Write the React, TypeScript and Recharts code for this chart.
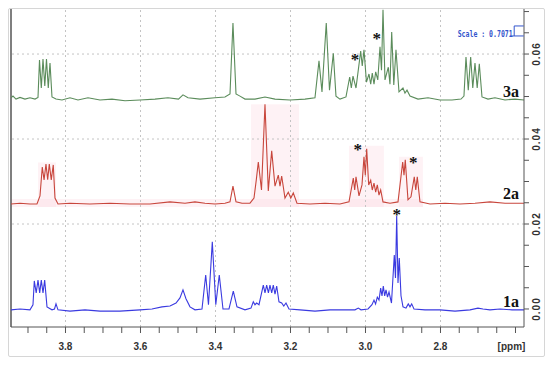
import React from 'react';
import { ComposedChart, Line, XAxis, YAxis, ReferenceLine, ReferenceArea, ReferenceDot } from 'recharts';

// ---- axis ticks / labels ----
const ppmTicks = [3.9, 3.85, 3.8, 3.75, 3.7, 3.65, 3.6, 3.55, 3.5, 3.45, 3.4, 3.35, 3.3, 3.25, 3.2, 3.15, 3.1, 3.05, 3.0, 2.95, 2.9, 2.85, 2.8, 2.75, 2.7, 2.65, 2.6];
const ppmLabels: Record<string, string> = { '3.8': '3.8', '3.6': '3.6', '3.4': '3.4', '3.2': '3.2', '3': '3.0', '2.8': '2.8', '2.6': '[ppm]' };
const ppmGrid = [3.8, 3.6, 3.4, 3.2, 3.0, 2.8];
const intensityTicks = [0, 0.005, 0.01, 0.015, 0.02, 0.025, 0.03, 0.035, 0.04, 0.045, 0.05, 0.055, 0.06, 0.065, 0.07];
const intensityLabels: Record<string, string> = { '0': '0.00', '0.02': '0.02', '0.04': '0.04', '0.06': '0.06' };
const intensityGrid = [0.02, 0.04, 0.06];
const ppmDomain = [2.5773, 3.9453];
const intensityDomain = [-0.00424, 0.0706];

// ---- spectra [ppm, intensity] ----
const spectrum3a: [number, number][] = [
  [3.9453, 0.0497], [3.94, 0.0501], [3.932, 0.0494], [3.9213, 0.0498], [3.908, 0.0494], [3.8947, 0.0497], [3.8813, 0.0494], [3.8733, 0.0498],
  [3.8693, 0.0586], [3.8645, 0.052], [3.86, 0.0588], [3.8552, 0.0525], [3.8507, 0.0588], [3.8459, 0.052], [3.8413, 0.0579], [3.836, 0.0499],
  [3.8253, 0.0494], [3.8093, 0.0492], [3.788, 0.0497], [3.7667, 0.0492], [3.74, 0.0497], [3.708, 0.0492], [3.676, 0.0494], [3.6413, 0.049],
  [3.6013, 0.0492], [3.5613, 0.0494], [3.5267, 0.0497], [3.4987, 0.0494], [3.4867, 0.0504], [3.4733, 0.0497], [3.4413, 0.0494], [3.4013, 0.0497],
  [3.3747, 0.0499], [3.3613, 0.0506], [3.3534, 0.0673], [3.3453, 0.0506], [3.3347, 0.0501], [3.3213, 0.0494], [3.2947, 0.0494], [3.268, 0.0499],
  [3.2413, 0.0494], [3.2013, 0.0492], [3.1613, 0.0494], [3.1347, 0.0497], [3.124, 0.0584], [3.116, 0.0511], [3.1046, 0.0673], [3.096, 0.0515],
  [3.0858, 0.0602], [3.0787, 0.0501], [3.068, 0.0494], [3.052, 0.0499], [3.0421, 0.0546], [3.0378, 0.052], [3.0333, 0.0548], [3.0253, 0.052],
  [3.0128, 0.0607], [3.0086, 0.0572], [3.004, 0.061], [2.9974, 0.0534], [2.9907, 0.0553], [2.9861, 0.0529], [2.9819, 0.0555], [2.9773, 0.0529],
  [2.9728, 0.0558], [2.9672, 0.0539], [2.9613, 0.0617], [2.9573, 0.0562], [2.9533, 0.0704], [2.948, 0.0539], [2.9392, 0.0569], [2.9347, 0.0529],
  [2.9301, 0.0652], [2.9245, 0.0527], [2.9187, 0.061], [2.9107, 0.0511], [2.9, 0.052], [2.8947, 0.0508], [2.8893, 0.0515], [2.8813, 0.0501],
  [2.86, 0.0494], [2.8333, 0.0497], [2.8013, 0.0492], [2.7693, 0.0492], [2.7453, 0.0494], [2.7374, 0.0501], [2.732, 0.0593], [2.7259, 0.0515],
  [2.7195, 0.0593], [2.7139, 0.052], [2.708, 0.0579], [2.7021, 0.052], [2.6965, 0.0577], [2.6893, 0.0499], [2.6733, 0.0494], [2.6547, 0.0497],
  [2.628, 0.0492], [2.6013, 0.0494], [2.5773, 0.0492],
];

const spectrum2a: [number, number][] = [
  [3.9453, 0.0247], [3.9213, 0.0249], [3.8947, 0.0247], [3.876, 0.0247], [3.868, 0.0266], [3.8619, 0.0334], [3.8571, 0.0304], [3.852, 0.0341],
  [3.8475, 0.0304], [3.8432, 0.0341], [3.8379, 0.0304], [3.8326, 0.0339], [3.828, 0.0261], [3.82, 0.0247], [3.788, 0.0249], [3.7347, 0.0247],
  [3.6813, 0.0249], [3.628, 0.0247], [3.5747, 0.0247], [3.5213, 0.0252], [3.4813, 0.0249], [3.4547, 0.0252], [3.428, 0.0249], [3.4013, 0.0247],
  [3.3747, 0.0249], [3.3613, 0.0252], [3.3534, 0.0289], [3.3453, 0.0252], [3.3293, 0.0249], [3.308, 0.0249], [3.2973, 0.0261], [3.2912, 0.0304],
  [3.2858, 0.0346], [3.2773, 0.028], [3.268, 0.0482], [3.2592, 0.0278], [3.2501, 0.0372], [3.2413, 0.0289], [3.2325, 0.0315], [3.228, 0.0289],
  [3.2235, 0.0313], [3.2147, 0.0261], [3.2059, 0.0275], [3.1992, 0.0261], [3.1925, 0.0273], [3.1827, 0.0249], [3.148, 0.0247], [3.108, 0.0249],
  [3.068, 0.0247], [3.044, 0.0252], [3.0325, 0.0308], [3.0288, 0.028], [3.0253, 0.0311], [3.0173, 0.0266], [3.0093, 0.0292], [3.004, 0.0358],
  [3.0005, 0.0315], [2.9968, 0.0377], [2.9915, 0.0292], [2.9861, 0.0303], [2.9819, 0.028], [2.9773, 0.0296], [2.9728, 0.0275], [2.9685, 0.0292],
  [2.964, 0.0268], [2.9595, 0.028], [2.9533, 0.0252], [2.9347, 0.0249], [2.9133, 0.0252], [2.9008, 0.0346], [2.8973, 0.0315], [2.8939, 0.0351],
  [2.8867, 0.0257], [2.8787, 0.0264], [2.8699, 0.0311], [2.8659, 0.028], [2.8619, 0.0311], [2.8547, 0.0252], [2.828, 0.0247], [2.788, 0.0249],
  [2.748, 0.0247], [2.708, 0.0249], [2.668, 0.0252], [2.628, 0.0249], [2.5773, 0.0249],
];

const spectrum1a: [number, number][] = [
  [3.9453, -0.0002], [3.9213, 0.0], [3.8947, -0.0002], [3.8867, 0.001], [3.8832, 0.0066], [3.8781, 0.0038], [3.8733, 0.0068], [3.8688, 0.0038],
  [3.8645, 0.0068], [3.86, 0.0038], [3.8555, 0.0068], [3.8493, 0.0005], [3.836, -0.0002], [3.8293, 0.0], [3.8253, 0.0012], [3.82, -0.0002],
  [3.788, -0.0005], [3.748, -0.0002], [3.708, -0.0005], [3.6547, -0.0005], [3.6013, -0.0002], [3.5693, 0.0], [3.5427, 0.0005], [3.5213, 0.0007],
  [3.5053, 0.0014], [3.4947, 0.0026], [3.4867, 0.0045], [3.4787, 0.0024], [3.468, 0.0005], [3.4547, -0.0002], [3.436, 0.0], [3.4261, 0.008],
  [3.4187, 0.001], [3.4085, 0.0158], [3.3992, 0.001], [3.3899, 0.008], [3.38, 0.0], [3.364, 0.0], [3.3525, 0.0042], [3.3427, 0.0005],
  [3.3213, -0.0002], [3.3053, 0.0002], [3.2992, 0.0017], [3.2947, 0.001], [3.2902, 0.0014], [3.284, 0.001], [3.2725, 0.0056], [3.268, 0.0038],
  [3.2635, 0.0056], [3.2589, 0.0038], [3.2547, 0.0056], [3.2501, 0.0038], [3.2459, 0.0056], [3.2413, 0.0035], [3.2368, 0.0054], [3.2307, 0.0017],
  [3.2235, 0.0014], [3.2179, 0.0007], [3.212, 0.0014], [3.204, 0.0], [3.1747, -0.0002], [3.1347, -0.0005], [3.0947, -0.0002], [3.0547, -0.0002],
  [3.028, -0.0002], [3.0192, 0.0002], [3.012, -0.0002], [2.9933, 0.0], [2.9827, 0.001], [2.9773, 0.0021], [2.9731, 0.0012], [2.9685, 0.0028],
  [2.964, 0.0021], [2.9595, 0.0049], [2.956, 0.0031], [2.9525, 0.0054], [2.9488, 0.0031], [2.9453, 0.0045], [2.9413, 0.0028], [2.9373, 0.004],
  [2.9307, 0.0014], [2.9232, 0.0127], [2.92, 0.0073], [2.9168, 0.0219], [2.9133, 0.0061], [2.9099, 0.012], [2.9053, 0.0031], [2.9, 0.0005],
  [2.892, 0.0002], [2.8859, 0.0012], [2.8813, 0.0005], [2.8768, 0.0012], [2.8707, 0.0], [2.8413, -0.0002], [2.8013, -0.0002], [2.7613, -0.0005],
  [2.7213, -0.0002], [2.7, 0.0002], [2.6867, 0.0], [2.668, -0.0002], [2.6413, 0.0], [2.6093, -0.0002], [2.5773, -0.0002],
];

// ---- annotations ----
const stars: [number, number][] = [[3.028, 0.0593], [2.9701, 0.0643], [3.0208, 0.0382], [2.8725, 0.0351], [2.9168, 0.0228]];
const seriesLabels: { text: string; ppm: number; v: number }[] = [
  { text: '3a', ppm: 2.6333, v: 0.0499 },
  { text: '2a', ppm: 2.6333, v: 0.0259 },
  { text: '1a', ppm: 2.6333, v: 0.0005 },
];
const highlight2a: [number, number, number, number][] = [
  [3.9453, 2.8467, 0.024, 0.0259],
  [3.8733, 3.8253, 0.024, 0.0345],
  [3.3053, 3.1773, 0.024, 0.0482],
  [3.044, 2.9507, 0.024, 0.0384],
  [2.9107, 2.8467, 0.024, 0.0358],
];
const scaleText = { text: 'Scale : 0.7071', ppm: 2.7541, v: 0.0639 };

const rows = (a: [number, number][]) => a.map(([ppm, v]) => ({ ppm, v }));

const XTick = (props: any) => {
  const { x, y, payload } = props;
  const label = ppmLabels[String(payload.value)];
  return (
    <g>
      <line x1={x} y1={y} x2={x} y2={y + 6} stroke="#555" strokeWidth={1} />
      {label && (
        <text x={label === '[ppm]' ? x - 4 : x} y={y + 23} textAnchor="middle" fontSize={10} fontWeight="bold"
          fill="#333" fontFamily="'Liberation Sans', Arial, sans-serif">{label}</text>
      )}
    </g>
  );
};

const YTick = (props: any) => {
  const { x, y, payload } = props;
  const label = intensityLabels[String(payload.value)];
  const lx = x + 13;
  return (
    <g>
      <line x1={x} y1={y} x2={x + 5} y2={y} stroke="#555" strokeWidth={1} />
      {label && (
        <text x={lx} y={y} transform={`rotate(-90 ${lx} ${y})`} textAnchor="middle" dominantBaseline="central"
          fontSize={10} fontWeight="bold" letterSpacing={1} fill="#333" fontFamily="'Liberation Sans', Arial, sans-serif">{label}</text>
      )}
    </g>
  );
};

export default function App() {
  return (
    <div style={{ position: 'absolute', left: 0, top: 0, width: 550, height: 365, background: '#fff' }}>
      <div style={{ position: 'absolute', left: 8, top: 8, width: 535, height: 347, border: '1px solid #d6d6d6', borderRadius: 2 }} />
      <div style={{ position: 'absolute', left: 0, top: 0 }}>
        <ComposedChart width={550} height={365} margin={{ top: 9, right: 0, bottom: 0, left: 11 }}>
          <XAxis type="number" dataKey="ppm" domain={ppmDomain} reversed allowDataOverflow ticks={ppmTicks}
            interval={0} height={38} tickSize={0} tickMargin={0} tick={<XTick />} axisLine={{ stroke: '#555' }} />
          <YAxis type="number" orientation="right" domain={intensityDomain} allowDataOverflow ticks={intensityTicks}
            interval={0} width={26} tickSize={0} tickMargin={0} tick={<YTick />} axisLine={{ stroke: '#555' }} />
          {highlight2a.map(([x1, x2, y1, y2], i) => (
            <ReferenceArea key={'h' + i} x1={x1} x2={x2} y1={y1} y2={y2} fill="#fbd3dd" fillOpacity={0.3} stroke="none" />
          ))}
          {ppmGrid.map((g) => (
            <ReferenceLine key={'gx' + g} x={g} stroke="#c4c4c4" strokeDasharray="2 3" />
          ))}
          {intensityGrid.map((g) => (
            <ReferenceLine key={'gy' + g} y={g} stroke="#c4c4c4" strokeDasharray="2 3" />
          ))}
          <ReferenceLine x={ppmDomain[1]} stroke="#555" strokeWidth={1.5} />
          <Line data={rows(spectrum3a)} dataKey="v" type="linear" stroke="#5b8c5b" strokeWidth={1.1} dot={false} isAnimationActive={false} />
          <Line data={rows(spectrum2a)} dataKey="v" type="linear" stroke="#c8463c" strokeWidth={1.1} dot={false} isAnimationActive={false} />
          <Line data={rows(spectrum1a)} dataKey="v" type="linear" stroke="#3a3ae0" strokeWidth={1.1} dot={false} isAnimationActive={false} />
          {stars.map(([p, v], i) => (
            <ReferenceDot key={'s' + i} x={p} y={v} r={0} ifOverflow="visible"
              shape={(sp: any) => (
                <text x={sp.cx} y={sp.cy + 8} textAnchor="middle" fontSize={17} fontWeight="bold"
                  fontFamily="'Liberation Serif', 'Times New Roman', serif" fill="#111">*</text>
              )} />
          ))}
          {seriesLabels.map((l) => (
            <ReferenceDot key={l.text} x={l.ppm} y={l.v} r={0} ifOverflow="visible"
              shape={(sp: any) => (
                <text x={sp.cx} y={sp.cy} textAnchor="start" fontSize={16} fontWeight="bold"
                  fontFamily="'Liberation Serif', 'Times New Roman', serif" fill="#111">{l.text}</text>
              )} />
          ))}
          <ReferenceDot x={scaleText.ppm} y={scaleText.v} r={0} ifOverflow="visible"
            shape={(sp: any) => (
              <g>
                <text x={sp.cx} y={sp.cy} fontSize={8} fontWeight="bold" textLength={55} lengthAdjust="spacingAndGlyphs"
                  fontFamily="'DejaVu Sans Mono', 'Liberation Mono', monospace" fill="#3355cc">{scaleText.text}</text>
                <polyline points={`${sp.cx + 52},${sp.cy - 1.5} ${sp.cx + 66},${sp.cy - 1.5}`} fill="none" stroke="#3355cc" strokeWidth={1} />
                <polyline points={`${sp.cx + 66},${sp.cy - 11.5} ${sp.cx + 56.5},${sp.cy - 11.5} ${sp.cx + 56.5},${sp.cy - 1.5}`} fill="none" stroke="#3355cc" strokeWidth={1} />
              </g>
            )} />
        </ComposedChart>
      </div>
    </div>
  );
}
